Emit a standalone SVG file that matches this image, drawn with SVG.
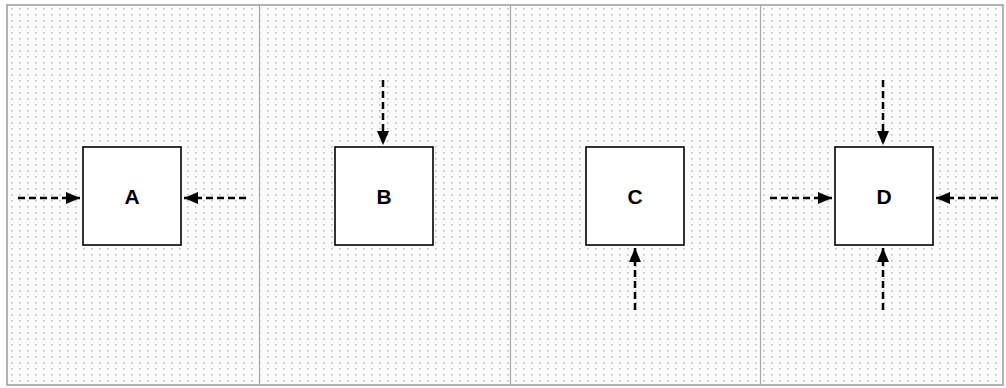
<svg xmlns="http://www.w3.org/2000/svg" width="1006" height="388" viewBox="0 0 1006 388">
<defs>
<pattern id="dots" width="8" height="6" patternUnits="userSpaceOnUse">
<rect width="8" height="6" fill="#fbfbfb"/>
<rect x="3" y="2" width="1.6" height="1.6" fill="#c0c0c0"/>
</pattern>
<marker id="ah" viewBox="0 0 14 12" refX="14" refY="6" markerWidth="14" markerHeight="12" markerUnits="userSpaceOnUse" orient="auto">
<path d="M0,0 L14,6 L0,12 Z" fill="#000"/>
</marker>
</defs>
<style>
.box{fill:#fff;stroke:#000;stroke-width:1.6}
.lbl{font-family:"Liberation Sans",Arial,sans-serif;font-weight:bold;font-size:21px;fill:#000;text-anchor:middle}
.con{stroke:#000;stroke-width:2.5;stroke-dasharray:7 4;fill:none;marker-end:url(#ah)}
.div{stroke:#a8a8a8;stroke-width:1.2}
</style>
<rect x="0" y="0" width="1006" height="388" fill="#fff"/>
<rect x="7" y="5" width="996" height="380" fill="url(#dots)" stroke="#9a9a9a" stroke-width="1.5"/>
<g id="dividers">
<line class="div" x1="259.5" y1="5" x2="259.5" y2="385"/>
<line class="div" x1="510.5" y1="5" x2="510.5" y2="385"/>
<line class="div" x1="760.5" y1="5" x2="760.5" y2="385"/>
</g>
<g id="nodeA"><rect class="box" x="83" y="147" width="98" height="98"/><text class="lbl" x="132" y="204">A</text></g>
<g id="nodeB"><rect class="box" x="335" y="147" width="98" height="98"/><text class="lbl" x="384" y="204">B</text></g>
<g id="nodeC"><rect class="box" x="586" y="147" width="98" height="98"/><text class="lbl" x="635" y="204">C</text></g>
<g id="nodeD"><rect class="box" x="835" y="147" width="98" height="98"/><text class="lbl" x="884" y="204">D</text></g>
<g id="connectors">
<line class="con" x1="18" y1="198" x2="80" y2="198"/>
<line class="con" x1="246" y1="198" x2="184" y2="198"/>
<line class="con" x1="383" y1="80" x2="383" y2="145"/>
<line class="con" x1="635" y1="310" x2="635" y2="248"/>
<line class="con" x1="883" y1="80" x2="883" y2="145"/>
<line class="con" x1="883" y1="310" x2="883" y2="248"/>
<line class="con" x1="770" y1="198" x2="832" y2="198"/>
<line class="con" x1="998" y1="198" x2="936" y2="198"/>
</g>
</svg>
